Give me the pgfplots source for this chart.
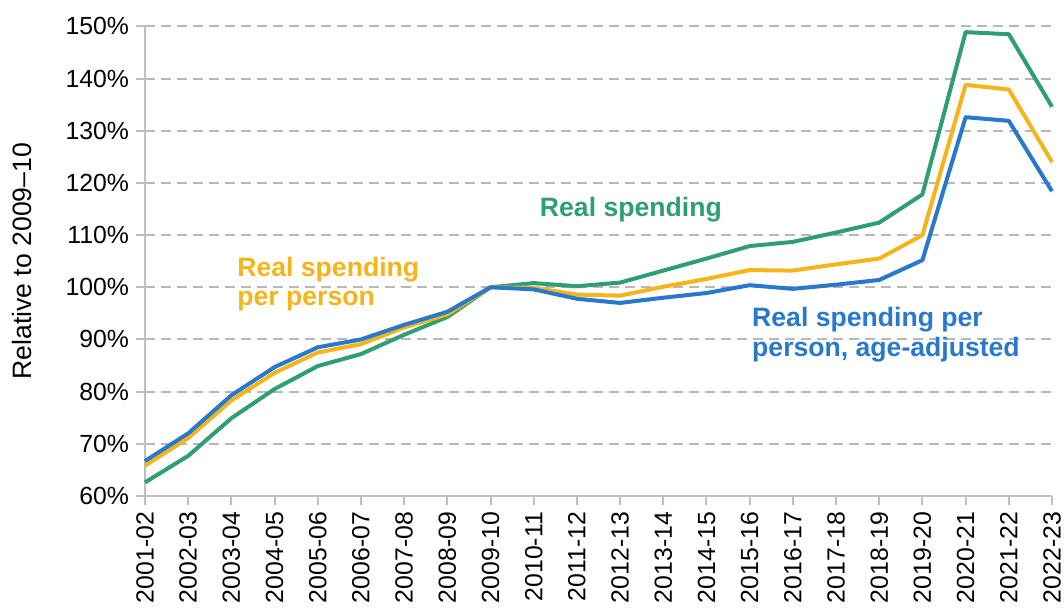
\documentclass[border=0pt]{standalone}
\usepackage{fontspec}
\setmainfont{Liberation Sans}
\usepackage{pgfplots}
\pgfplotsset{compat=1.18}

\definecolor{rsgreen}{HTML}{2E9E73}
\definecolor{rsyellow}{HTML}{F4B41A}
\definecolor{rsblue}{HTML}{2878CC}
\definecolor{axisgray}{HTML}{BFBFBF}

\begin{document}
\begin{tikzpicture}
\begin{axis}[
  scale only axis,
  width=453.5pt,
  height=234.8pt,
  xmin=0, xmax=21,
  ymin=60, ymax=150,
  ytick={60,70,...,150},
  xtick={0,...,21},
  xticklabels={2001-02,2002-03,2003-04,2004-05,2005-06,2006-07,2007-08,2008-09,2009-10,2010-11,2011-12,2012-13,2013-14,2014-15,2015-16,2016-17,2017-18,2018-19,2019-20,2020-21,2021-22,2022-23},
  yticklabel={\pgfmathprintnumber{\tick}\%},
  /pgf/number format/assume math mode=true,
  axis lines=left,
  axis line style={-, draw=axisgray, line width=1pt},
  tick style={draw=axisgray, line width=1pt},
  tick align=outside,
  major tick length=4.5pt,
  ymajorgrids,
  major grid style={dash pattern=on 5pt off 3pt, draw=black!28, line width=1pt},
  ticklabel style={font=\fontsize{12.4}{14}\selectfont, text=black},
  x tick label style={rotate=90, anchor=east},
  ylabel={Relative to 2009--10},
  every axis y label/.style={at={(axis description cs:0,0.5)}, rotate=90, anchor=center, yshift=61.5pt, font=\fontsize{13.3}{15}\selectfont},
  clip=false,
  line join=round,
]
% Real spending
\addplot[rsgreen, line width=2pt] coordinates {
(0,62.6) (1,67.7) (2,74.9) (3,80.5) (4,84.9) (5,87.2) (6,90.9) (7,94.3) (8,100.0)
(9,100.8) (10,100.2) (11,100.9) (12,103.2) (13,105.5) (14,107.9) (15,108.7) (16,110.5)
(17,112.4) (18,117.8) (19,148.9) (20,148.5) (21,134.6)};
% Real spending per person
\addplot[rsyellow, line width=2pt] coordinates {
(0,65.8) (1,71.1) (2,78.3) (3,83.6) (4,87.5) (5,89.1) (6,92.3) (7,94.8) (8,100.0)
(9,99.9) (10,98.6) (11,98.4) (12,100.1) (13,101.6) (14,103.3) (15,103.2) (16,104.4)
(17,105.5) (18,110.0) (19,138.8) (20,137.9) (21,124.0)};
% Real spending per person, age-adjusted
\addplot[rsblue, line width=2pt] coordinates {
(0,66.7) (1,72.0) (2,79.3) (3,84.7) (4,88.5) (5,90.0) (6,92.8) (7,95.3) (8,100.0)
(9,99.6) (10,97.8) (11,97.0) (12,98.0) (13,98.9) (14,100.4) (15,99.7) (16,100.5)
(17,101.4) (18,105.2) (19,132.6) (20,131.9) (21,118.4)};

\node[text=rsgreen, font=\bfseries\fontsize{13.3}{14.6}\selectfont] at (axis cs:11.25,114.8) {Real spending};
\node[text=rsyellow, font=\bfseries\fontsize{13.3}{14.6}\selectfont, anchor=west, align=left, inner sep=0pt] at (axis cs:2.13,100.6) {Real spending\\per person};
\node[text=rsblue, font=\bfseries\fontsize{13.3}{14.6}\selectfont, anchor=west, align=left, inner sep=0pt] at (axis cs:14.05,90.9) {Real spending per\\person, age-adjusted};
\end{axis}
\pgfresetboundingbox
\path[use as bounding box] ([xshift=-72.5pt,yshift=-56pt]current axis.south west) rectangle ([xshift=6pt,yshift=13.2pt]current axis.north east);
\end{tikzpicture}
\end{document}
